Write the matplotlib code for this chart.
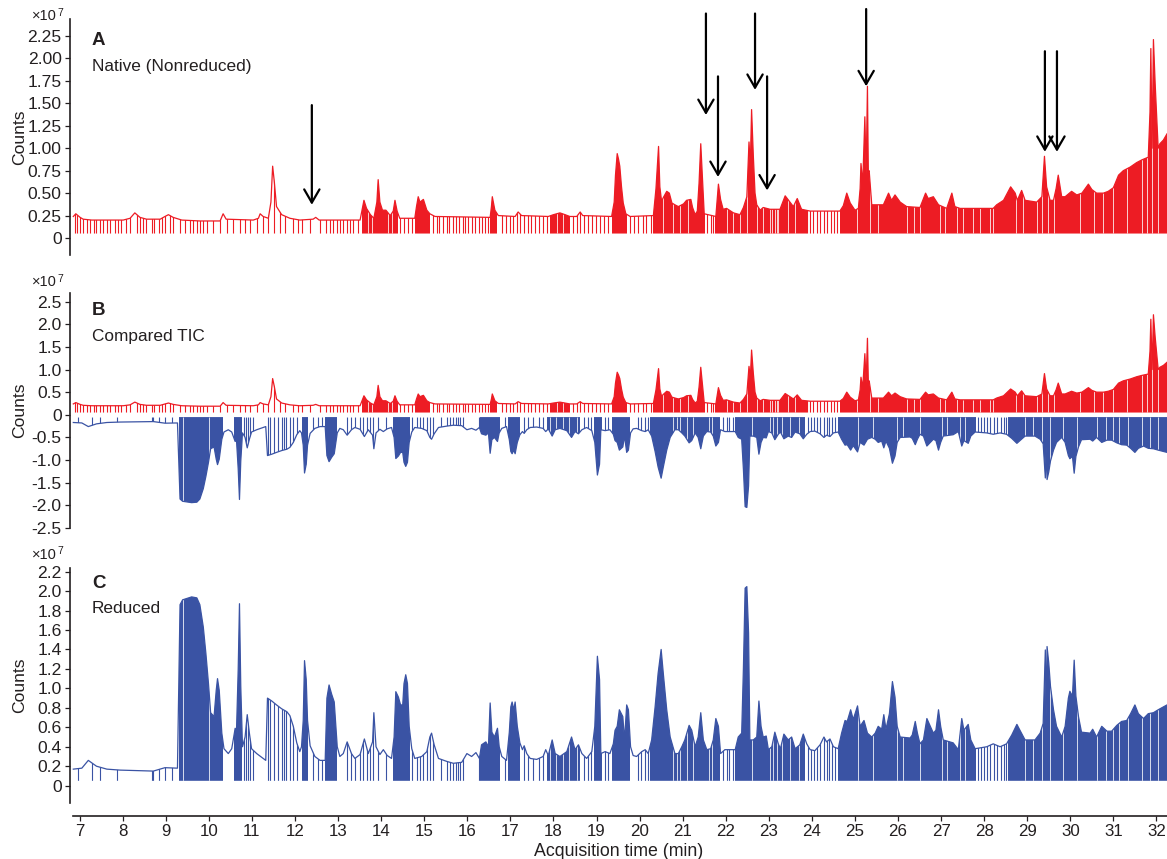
import numpy as np
import matplotlib
matplotlib.use("Agg")
import matplotlib.pyplot as plt

plt.rcParams['font.family'] = ['Liberation Sans', 'DejaVu Sans']

RED = '#ED1C24'
BLUE = '#3A53A4'
TXT = '#231F20'

# ---------------- data (x10^7 counts, time in min) ----------------
native_t = [6.852, 6.91, 7.01, 7.08, 7.28, 8.01, 8.17, 8.28, 8.40, 8.55, 8.87, 8.98, 9.06, 9.17, 9.37,
            9.79, 10.26, 10.33, 10.40, 11.03, 11.15, 11.19, 11.26, 11.38, 11.44, 11.48, 11.52, 11.57,
            11.69, 11.88, 12.11, 12.42, 12.48, 12.56, 13.51, 13.55, 13.60, 13.66, 13.75, 13.83, 13.90,
            13.93, 13.97, 14.03, 14.11, 14.21, 14.28, 14.32, 14.37, 14.43, 14.78, 14.82, 14.86, 14.90,
            14.98, 15.06, 15.13, 15.25, 16.53, 16.56, 16.58, 16.64, 16.72, 17.11, 17.18, 17.26, 17.88,
            18.00, 18.15, 18.27, 18.38, 18.54, 18.62, 18.68, 19.35, 19.41, 19.44, 19.48, 19.51, 19.54,
            19.58, 19.62, 19.68, 19.78, 20.32, 20.38, 20.44, 20.47, 20.51, 20.55, 20.63, 20.69, 20.75,
            20.82, 20.90, 21.02, 21.09, 21.19, 21.23, 21.29, 21.34, 21.38, 21.42, 21.46, 21.50, 21.77,
            21.80, 21.83, 21.88, 21.94, 22.02, 22.18, 22.33, 22.41, 22.49, 22.54, 22.57, 22.60, 22.64,
            22.68, 22.72, 22.80, 22.87, 23.03, 23.26, 23.34, 23.38, 23.49, 23.57, 23.66, 23.76, 23.96,
            24.65, 24.73, 24.81, 24.89, 25.00, 25.08, 25.12, 25.14, 25.18, 25.23, 25.26, 25.29, 25.31,
            25.33, 25.39, 25.66, 25.78, 25.85, 25.93, 26.05, 26.20, 26.51, 26.64, 26.70, 26.82, 26.94,
            27.13, 27.25, 27.32, 27.44, 28.21, 28.29, 28.45, 28.615, 28.72, 28.77, 28.87, 28.95, 29.22,
            29.34, 29.40, 29.45, 29.53, 29.61, 29.67, 29.72, 29.80, 29.88, 30.03, 30.15, 30.27, 30.42,
            30.50, 30.61, 30.77, 30.88, 31.00, 31.12, 31.23, 31.39, 31.54, 31.66, 31.81, 31.85, 31.87,
            31.90, 31.93, 31.97, 32.01, 32.04, 32.08, 32.16, 32.245]
native_v = [0.24, 0.27, 0.23, 0.21, 0.20, 0.20, 0.22, 0.28, 0.23, 0.21, 0.21, 0.24, 0.26, 0.23, 0.20,
            0.19, 0.19, 0.27, 0.21, 0.20, 0.22, 0.27, 0.24, 0.22, 0.40, 0.80, 0.62, 0.35,
            0.26, 0.22, 0.20, 0.21, 0.23, 0.20, 0.20, 0.30, 0.42, 0.33, 0.26, 0.22, 0.40,
            0.65, 0.40, 0.31, 0.31, 0.25, 0.30, 0.42, 0.30, 0.22, 0.22, 0.35, 0.46, 0.40,
            0.43, 0.31, 0.27, 0.24, 0.23, 0.35, 0.46, 0.31, 0.25, 0.24, 0.29, 0.25, 0.24,
            0.26, 0.28, 0.26, 0.24, 0.24, 0.29, 0.25, 0.24, 0.40, 0.70, 0.94, 0.88, 0.80,
            0.57, 0.39, 0.27, 0.24, 0.25, 0.55, 1.02, 0.57, 0.41, 0.45, 0.52, 0.50, 0.39,
            0.37, 0.35, 0.38, 0.42, 0.43, 0.34, 0.26, 0.30, 0.61, 1.05, 0.65, 0.27, 0.24,
            0.42, 0.60, 0.43, 0.32, 0.33, 0.28, 0.26, 0.34, 0.46, 1.07, 0.80, 1.43, 0.92,
            0.50, 0.37, 0.31, 0.34, 0.32, 0.32, 0.42, 0.47, 0.40, 0.35, 0.44, 0.32, 0.30,
            0.30, 0.36, 0.50, 0.39, 0.31, 0.33, 0.55, 0.83, 0.60, 1.35, 0.70, 1.69, 0.74,
            0.75, 0.37, 0.37, 0.50, 0.42, 0.48, 0.40, 0.35, 0.34, 0.50, 0.44, 0.46, 0.37,
            0.33, 0.50, 0.35, 0.33, 0.33, 0.37, 0.42, 0.57, 0.50, 0.42, 0.53, 0.42, 0.40,
            0.46, 0.91, 0.57, 0.42, 0.42, 0.55, 0.70, 0.46, 0.46, 0.52, 0.48, 0.50, 0.60,
            0.54, 0.50, 0.50, 0.52, 0.56, 0.70, 0.75, 0.79, 0.84, 0.87, 0.90, 1.40, 2.11,
            1.00, 2.21, 1.72, 1.30, 1.00, 1.05, 1.09, 1.16]
native_drops = [6.89, 6.945, 7.007, 7.08, 7.18, 7.24, 7.33, 7.39, 7.47, 7.55, 7.63, 7.70, 7.82, 7.90,
                7.97, 8.08, 8.17, 8.32, 8.40, 8.48, 8.55, 8.67, 8.73, 8.83, 8.90, 8.98, 9.10, 9.17, 9.33,
                9.44, 9.56, 9.64, 9.72, 9.79, 9.87, 9.95, 10.10, 10.26, 10.41, 10.57, 10.72, 10.84,
                10.96, 11.11, 11.26, 11.38, 11.50, 11.65, 11.77, 11.96, 12.08, 12.15, 12.35, 12.58,
                12.73, 12.81, 12.89, 12.97, 13.05, 13.12, 13.20, 13.28, 13.35, 13.47,
                14.44, 14.53, 14.63, 14.71,
                15.21, 15.29, 15.35, 15.44, 15.52, 15.58, 15.66, 15.74, 15.81, 15.89, 15.95, 16.02,
                16.10, 16.18, 16.26, 16.33, 16.41, 16.49,
                16.80, 16.90, 16.99, 17.07, 17.16, 17.22, 17.32, 17.42, 17.49, 17.57, 17.67, 17.76, 17.84,
                18.46, 18.54, 18.62, 18.71, 18.81, 18.89, 18.99, 19.08, 19.17, 19.27,
                19.78, 19.87, 19.97, 20.07, 20.16, 20.26,
                21.57, 21.65, 21.71,
                23.88, 23.96, 24.03, 24.13, 24.19, 24.28, 24.34, 24.44, 24.51, 24.59]
native_dense_start = [13.55, 14.78, 16.53, 17.92, 19.37, 20.32, 21.75, 24.65]
native_dense_end = [14.40, 15.13, 16.70, 18.38, 19.70, 21.52, 23.88, 32.245]
native_gaps = [13.70, 13.78, 14.16, 14.25, 18.08, 18.22, 20.55, 20.78, 20.94, 21.13, 22.02, 22.18,
               22.33, 22.49, 22.72, 22.87, 23.03, 23.07, 23.14, 23.18, 23.22, 23.45, 23.60, 25.04,
               25.35, 25.54, 26.20, 26.36, 26.51, 26.97, 27.09, 27.36, 27.52, 27.75, 27.90, 28.14,
               28.21, 28.75, 28.91, 29.22, 29.34, 29.49, 29.61, 30.23, 30.54, 30.77, 31.00, 31.31,
               31.66, 31.77, 31.89, 32.04]

reduced_t = [6.852, 7.05, 7.20, 7.39, 7.63, 7.94, 8.71, 8.86, 8.98, 9.27, 9.30, 9.33, 9.39, 9.60, 9.72,
             9.79, 9.87, 9.93, 9.99, 10.04, 10.12, 10.17, 10.20, 10.24, 10.30, 10.35, 10.45, 10.53,
             10.61, 10.64, 10.68, 10.71, 10.74, 10.78, 10.84, 10.89, 10.94, 10.99, 11.11, 11.26, 11.32,
             11.36, 11.46, 11.57, 11.69, 11.81, 11.88, 11.96, 12.04, 12.11, 12.15, 12.19, 12.22, 12.26,
             12.29, 12.35, 12.46, 12.58, 12.70, 12.74, 12.79, 12.85, 12.91, 12.95, 12.98, 13.04, 13.12,
             13.21, 13.31, 13.39, 13.51, 13.61, 13.70, 13.80, 13.83, 13.88, 13.97, 14.05, 14.14, 14.24,
             14.30, 14.34, 14.40, 14.45, 14.50, 14.53, 14.57, 14.61, 14.65, 14.71, 14.78, 14.94, 15.06,
             15.13, 15.17, 15.23, 15.33, 15.52, 15.675, 15.87, 15.99, 16.10, 16.20, 16.28, 16.33, 16.43,
             16.49, 16.53, 16.57, 16.63, 16.70, 16.74, 16.80, 16.91, 16.975, 17.01, 17.04, 17.08, 17.11,
             17.16, 17.22, 17.28, 17.32, 17.38, 17.46, 17.61, 17.76, 17.82, 17.88, 17.93, 17.97, 18.04,
             18.15, 18.31, 18.42, 18.50, 18.58, 18.66, 18.77, 18.89, 18.96, 19.02, 19.07, 19.10, 19.20,
             19.31, 19.39, 19.43, 19.48, 19.53, 19.61, 19.65, 19.70, 19.74, 19.79, 19.85, 19.93, 20.05,
             20.13, 20.20, 20.28, 20.36, 20.43, 20.50, 20.55, 20.63, 20.71, 20.82, 20.90, 20.98, 21.05,
             21.15, 21.21, 21.29, 21.36, 21.42, 21.48, 21.56, 21.65, 21.71, 21.77, 21.83, 21.88, 21.98,
             22.22, 22.29, 22.37, 22.41, 22.45, 22.49, 22.53, 22.56, 22.64, 22.72, 22.77, 22.82, 22.87,
             22.94, 22.99, 23.07, 23.14, 23.22, 23.27, 23.35, 23.45, 23.53, 23.61, 23.72, 23.80, 23.88,
             23.96, 24.07, 24.19, 24.28, 24.34, 24.42, 24.50, 24.61, 24.69, 24.77, 24.82, 24.90, 24.96,
             25.06, 25.12, 25.21, 25.29, 25.39, 25.47, 25.54, 25.62, 25.67, 25.72, 25.80, 25.87, 25.93,
             25.98, 26.05, 26.28, 26.33, 26.40, 26.45, 26.51, 26.59, 26.67, 26.74, 26.82, 26.88, 26.94,
             26.99, 27.05, 27.28, 27.40, 27.48, 27.53, 27.63, 27.69, 27.79, 28.06, 28.21, 28.37, 28.52,
             28.64, 28.76, 28.83, 28.95, 29.18, 29.30, 29.37, 29.42, 29.44, 29.46, 29.50, 29.54, 29.61,
             29.68, 29.80, 29.88, 29.955, 29.99, 30.05, 30.09, 30.13, 30.19, 30.26, 30.46, 30.52, 30.61,
             30.73, 30.85, 30.96, 31.08, 31.19, 31.31, 31.40, 31.50, 31.58, 31.70, 31.81, 31.93, 32.04,
             32.16, 32.245]
reduced_v = [0.17, 0.18, 0.26, 0.20, 0.17, 0.16, 0.15, 0.17, 0.185, 0.18, 1.00, 1.86, 1.91, 1.94, 1.93,
             1.86, 1.63, 1.36, 1.05, 0.75, 0.71, 0.98, 1.10, 0.98, 0.54, 0.38, 0.33, 0.38,
             0.59, 0.55, 1.19, 1.87, 1.02, 0.40, 0.50, 0.73, 0.54, 0.38, 0.33, 0.28, 0.26,
             0.90, 0.87, 0.83, 0.79, 0.76, 0.72, 0.61, 0.44, 0.35, 0.40, 0.67, 1.285, 1.09,
             0.67, 0.41, 0.30, 0.26, 0.26, 0.90, 1.035, 0.94, 0.86, 0.60, 0.40, 0.30, 0.33,
             0.45, 0.33, 0.28, 0.32, 0.48, 0.33, 0.45, 0.75, 0.40, 0.32, 0.37, 0.31, 0.28,
             0.50, 0.966, 0.91, 0.83, 0.83, 1.05, 1.14, 1.05, 0.61, 0.38, 0.28, 0.30, 0.35,
             0.50, 0.54, 0.42, 0.28, 0.25, 0.23, 0.24, 0.33, 0.30, 0.34, 0.28, 0.42, 0.45,
             0.40, 0.85, 0.55, 0.50, 0.59, 0.40, 0.30, 0.26, 0.55, 0.81, 0.86, 0.78, 0.86,
             0.61, 0.44, 0.37, 0.41, 0.33, 0.28, 0.27, 0.30, 0.37, 0.31, 0.40, 0.47, 0.33,
             0.30, 0.35, 0.50, 0.37, 0.42, 0.33, 0.28, 0.35, 0.61, 1.33, 1.09, 0.33, 0.35,
             0.33, 0.43, 0.57, 0.61, 0.78, 0.71, 0.47, 0.83, 0.78, 0.40, 0.31, 0.30, 0.35,
             0.37, 0.33, 0.47, 0.81, 1.155, 1.40, 1.155, 0.78, 0.50, 0.33, 0.33, 0.40, 0.47,
             0.62, 0.57, 0.40, 0.50, 0.75, 0.47, 0.37, 0.38, 0.47, 0.69, 0.61, 0.33, 0.37,
             0.37, 0.50, 0.54, 1.20, 2.03, 2.046, 1.57, 0.47, 0.47, 0.50, 0.87, 0.61, 0.50,
             0.51, 0.37, 0.40, 0.55, 0.43, 0.38, 0.53, 0.47, 0.50, 0.38, 0.42, 0.53, 0.43,
             0.37, 0.36, 0.42, 0.50, 0.45, 0.48, 0.40, 0.38, 0.54, 0.67, 0.66, 0.78, 0.68,
             0.82, 0.61, 0.67, 0.54, 0.50, 0.54, 0.61, 0.58, 0.73, 0.58, 0.74, 1.07, 0.91,
             0.61, 0.50, 0.49, 0.52, 0.66, 0.54, 0.43, 0.47, 0.69, 0.62, 0.54, 0.57, 0.78,
             0.61, 0.47, 0.44, 0.37, 0.69, 0.57, 0.63, 0.47, 0.38, 0.40, 0.43, 0.40, 0.43,
             0.52, 0.63, 0.57, 0.47, 0.47, 0.54, 0.64, 1.395, 0.70, 1.43, 1.26, 1.02, 0.78,
             0.61, 0.50, 0.61, 0.90, 0.97, 0.92, 1.29, 0.92, 0.71, 0.55, 0.54, 0.58, 0.50,
             0.61, 0.56, 0.56, 0.62, 0.66, 0.67, 0.74, 0.83, 0.74, 0.69, 0.74, 0.75, 0.78,
             0.81, 0.83]
reduced_drops = [6.95, 7.28, 7.47, 7.87, 8.67, 8.71, 8.83, 8.98, 9.14,
                 10.82, 10.86, 10.90, 10.96, 11.03,
                 11.38, 11.43, 11.51, 11.61, 11.69, 11.74, 11.80, 11.88, 11.96, 12.04,
                 12.42, 12.54, 12.62,
                 13.20, 13.31, 13.39, 13.51, 13.58, 13.66, 13.74, 13.82, 13.93, 14.12,
                 14.71, 14.82, 14.90, 14.98, 15.06, 15.13, 15.21, 15.38, 15.52, 15.60, 15.675, 15.74,
                 15.79, 15.84, 15.91, 16.26,
                 16.88,
                 17.32, 17.42, 17.53, 17.67, 17.76,
                 18.70, 18.80, 18.88,
                 19.20, 19.27,
                 19.97, 20.03, 20.12, 20.19,
                 21.94, 22.02, 22.08, 22.18,
                 23.90, 23.97, 24.04, 24.12, 24.19, 24.27, 24.34, 24.40, 24.47, 24.53,
                 27.86, 27.92, 28.00, 28.07, 28.14, 28.22, 28.30, 28.38, 28.45, 28.50]
reduced_dense_start = [9.30, 10.58, 12.15, 12.70, 14.28, 16.29, 16.95, 17.85, 18.93, 19.35, 20.24,
                       22.22, 24.60, 28.55]
reduced_dense_end = [10.32, 10.76, 12.31, 12.97, 14.67, 16.76, 17.22, 18.62, 19.12, 19.78, 21.87,
                     23.85, 27.82, 32.245]
reduced_gaps = [9.39, 10.01, 17.92, 18.07, 18.23, 18.35, 18.54, 20.78, 20.86, 20.94, 21.09, 21.25,
                21.60, 21.67, 22.60, 23.03, 23.10, 23.18, 23.30, 23.49, 23.69, 25.08, 25.43, 25.97,
                26.12, 26.51, 27.01, 27.13, 27.44, 27.56, 28.95, 29.14, 29.34, 29.53, 29.84, 30.15,
                30.61, 30.84, 31.00, 31.12, 31.35, 31.66, 31.85, 32.04]

arrow_t = [12.39, 21.54, 21.82, 22.68, 22.96, 25.26, 29.41, 29.69]
arrow_top = [1.48, 2.50, 1.80, 2.50, 1.80, 2.55, 2.08, 2.08]
arrow_tip = [0.37, 1.37, 0.68, 1.65, 0.53, 1.69, 0.96, 0.96]

x_ticks = list(range(7, 33))
a_ticks = [0, 0.25, 0.5, 0.75, 1.0, 1.25, 1.5, 1.75, 2.0, 2.25]
a_labels = ['0', '0.25', '0.50', '0.75', '1.00', '1.25', '1.50', '1.75', '2.00', '2.25']
b_ticks = [-2.5, -2.0, -1.5, -1.0, -0.5, 0, 0.5, 1.0, 1.5, 2.0, 2.5]
b_labels = ['-2.5', '-2.0', '-1.5', '-1.0', '-0.5', '0', '0.5', '1.0', '1.5', '2.0', '2.5']
c_ticks = [0, 0.2, 0.4, 0.6, 0.8, 1.0, 1.2, 1.4, 1.6, 1.8, 2.0, 2.2]
c_labels = ['0', '0.2', '0.4', '0.6', '0.8', '1.0', '1.2', '1.4', '1.6', '1.8', '2.0', '2.2']

# ---------------- drawing ----------------
W, H = 1167, 859
fig = plt.figure(figsize=(W / 100, H / 100), dpi=100)

XLIM = (6.775, 32.245)
LEFT = 70 / W
WID = 1097 / W


def make_ax(top_px, bot_px, ylim):
    ax = fig.add_axes([LEFT, 1 - bot_px / H, WID, (bot_px - top_px) / H])
    ax.set_xlim(*XLIM)
    ax.set_ylim(*ylim)
    for s in ('top', 'right'):
        ax.spines[s].set_visible(False)
    ax.spines['left'].set_linewidth(1.2)
    ax.spines['left'].set_color(TXT)
    ax.tick_params(axis='y', direction='out', length=3.6, width=0.9, pad=2.4,
                   labelsize=12.6, colors=TXT)
    ax.set_ylabel('Counts', fontsize=12.6, color=TXT)
    ax.yaxis.set_label_coords(-0.0387, 0.5)
    return ax


def draw_trace(ax, t, v, drops, dstart, dend, gaps, color, sign):
    t = np.asarray(t, float)
    v = sign * np.asarray(v, float)
    base = sign * 0.05
    far = sign * 5.0
    region = ax.fill_between(t, base, v, facecolor='none', edgecolor='none', linewidth=0)
    clip = region.get_paths()[0]
    for a, b in zip(dstart, dend):
        p = ax.fill_between([a, b], base, far, color=color, linewidth=0)
        p.set_clip_path(clip, ax.transData)
    lines = ax.vlines(drops, base, far, colors=color, linewidth=0.8)
    lines.set_clip_path(clip, ax.transData)
    white = ax.vlines(gaps, base, far, colors='white', linewidth=0.7, alpha=0.8)
    white.set_clip_path(clip, ax.transData)
    ax.plot(t, v, color=color, lw=0.9)


# Panel A
axA = make_ax(19, 255, (-0.189, 2.439))
axA.spines['bottom'].set_visible(False)
axA.set_xticks([])
axA.set_yticks(a_ticks)
axA.set_yticklabels(a_labels)
draw_trace(axA, native_t, native_v, native_drops, native_dense_start, native_dense_end,
           native_gaps, RED, 1)
for t, top, tip in zip(arrow_t, arrow_top, arrow_tip):
    axA.annotate('', xy=(t, tip), xytext=(t, top), annotation_clip=False,
                 arrowprops=dict(arrowstyle='->,head_length=0.95,head_width=0.55',
                                 color='black', lw=1.6, shrinkA=0, shrinkB=0))

# Panel B
axB = make_ax(293, 528, (-2.5, 2.69))
axB.spines['bottom'].set_visible(False)
axB.set_xticks([])
axB.set_yticks(b_ticks)
axB.set_yticklabels(b_labels)
draw_trace(axB, native_t, native_v, native_drops, native_dense_start, native_dense_end,
           native_gaps, RED, 1)
draw_trace(axB, reduced_t, reduced_v, reduced_drops, reduced_dense_start, reduced_dense_end,
           reduced_gaps, BLUE, -1)

# Panel C
axC = make_ax(568, 803, (-0.178, 2.237))
axC.spines['bottom'].set_position(('outward', 9))
axC.spines['bottom'].set_linewidth(1.2)
axC.spines['bottom'].set_color(TXT)
axC.spines['bottom'].set_bounds(6.85, XLIM[1])
axC.set_xticks(x_ticks)
axC.set_xticklabels([str(x) for x in x_ticks])
axC.tick_params(axis='x', direction='out', length=3.6, width=0.9, pad=2.6,
                labelsize=12.2, colors=TXT)
axC.set_yticks(c_ticks)
axC.set_yticklabels(c_labels)
draw_trace(axC, reduced_t, reduced_v, reduced_drops, reduced_dense_start, reduced_dense_end,
           reduced_gaps, BLUE, 1)

# Texts
def ftext(xpx, ypx, s, **kw):
    fig.text(xpx / W, 1 - ypx / H, s, va='baseline', color=TXT, **kw)

for (lab, sub, yl, ys, yx) in [('A', 'Native (Nonreduced)', 45, 71, 20),
                               ('B', 'Compared TIC', 315, 341, 286),
                               ('C', 'Reduced', 588, 613, 559)]:
    ftext(92, yl, lab, fontsize=13.5, fontweight='bold')
    ftext(92, ys, sub, fontsize=12.4)
    ftext(32, yx, '\u00d710', fontsize=10.5)
    ftext(57.5, yx - 4.5, '7', fontsize=7.5)

ftext(618.5, 856, 'Acquisition time (min)', fontsize=12.8, ha='center')

fig.savefig('out.png', dpi=100)
